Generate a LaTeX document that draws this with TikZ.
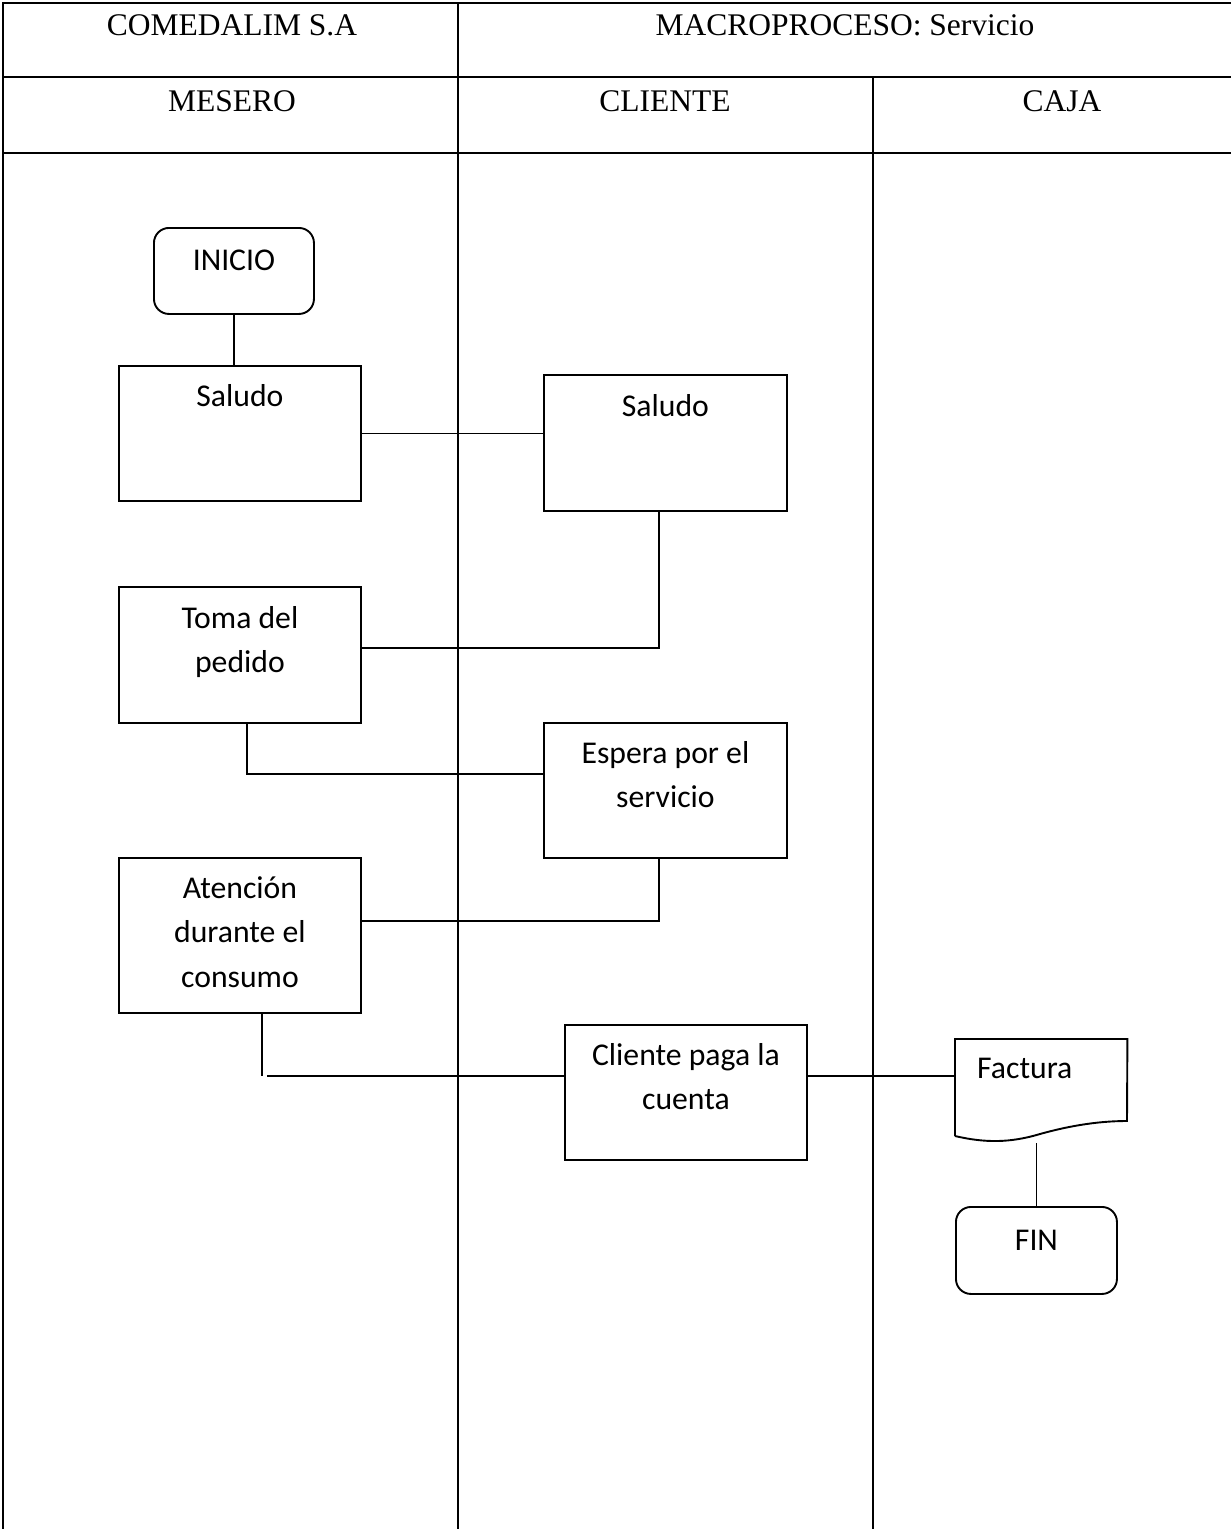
\documentclass[tikz,border=0pt]{standalone}
\usepackage{fontspec}
\setmainfont{Liberation Serif}
\newfontfamily\calfont{Carlito}
\begin{document}
\begin{tikzpicture}[x=1pt,y=-1pt,
  grid/.style={line width=2.3pt},
  conn/.style={line width=1.9pt},
  box/.style={draw, line width=1.9pt, rectangle, anchor=north west, inner sep=0pt},
  term/.style={box, rounded corners=15pt},
  hdr/.style={anchor=base, inner sep=0pt, font=\fontsize{31.5pt}{38pt}\selectfont},
  btxt/.style={anchor=north, inner sep=0pt, align=center, font=\calfont\fontsize{31.7pt}{44.5pt}\selectfont}
]
\useasboundingbox (0,0) rectangle (1231,1529);
% table
\draw[grid] (3,1535) -- (3,3) -- (1240,3);
\draw[grid] (3,77) -- (1240,77);
\draw[grid] (3,153) -- (1240,153);
\draw[grid] (458,3) -- (458,1535);
\draw[grid] (873,77) -- (873,1535);
% headers
\node[hdr] (h1) at (232,35) {COMEDALIM S.A};
\node[hdr] (h2) at (845,35) {MACROPROCESO: Servicio};
\node[hdr] (h3) at (232,111) {MESERO};
\node[hdr] (h4) at (665,111) {CLIENTE};
\node[hdr] (h5) at (1062,111) {CAJA};
% shapes
\node[term, minimum width=160pt, minimum height=86pt] (inicio) at (153,227) {};
\node[btxt] (iniciot) at ([yshift=-12pt]inicio.north) {\strut INICIO};
\node[box, minimum width=242pt, minimum height=135pt] (saludoM) at (118,365) {};
\node[btxt] (saludoMt) at ([yshift=-9.85pt]saludoM.north) {\strut Saludo};
\node[box, minimum width=243pt, minimum height=136pt] (saludoC) at (543,374) {};
\node[btxt] (saludoCt) at ([yshift=-10.85pt]saludoC.north) {\strut Saludo};
\node[box, minimum width=242pt, minimum height=136pt] (toma) at (118,586) {};
\node[btxt] (tomat) at ([yshift=-10.85pt]toma.north) {\strut Toma del\\\strut pedido};
\node[box, minimum width=243pt, minimum height=135pt] (espera) at (543,722) {};
\node[btxt] (esperat) at ([yshift=-9.85pt]espera.north) {\strut Espera por el\\\strut servicio};
\node[box, minimum width=242pt, minimum height=155pt] (atencion) at (118,857) {};
\node[btxt] (atenciont) at ([yshift=-9.85pt]atencion.north) {\strut Atención\\\strut durante el\\\strut consumo};
\node[box, minimum width=242pt, minimum height=135pt] (cliente) at (564,1024) {};
\node[btxt] (clientet) at ([yshift=-9.85pt]cliente.north) {\strut Cliente paga la\\\strut cuenta};
% factura (document shape)
\node[anchor=north west, minimum width=172pt, minimum height=104pt, inner sep=0pt] (factura) at (955,1039) {};
\draw[conn, line join=miter] (955,1136) -- (factura.north west) -- (factura.north east) -- (1127,1121)
  .. controls (1095,1121) and (1065,1127) .. (1040,1134)
  .. controls (1010,1143) and (985,1143) .. (955,1136);
\node[anchor=base west, inner sep=0pt, font=\calfont\fontsize{31.7pt}{44.5pt}\selectfont] (facturat) at (977,1078) {Factura};
\node[term, minimum width=161pt, minimum height=87pt] (fin) at (955,1206) {};
\node[btxt] (fint) at ([yshift=-13pt]fin.north) {\strut FIN};
% connectors
\draw[conn] (inicio.south) -- (inicio.south |- saludoM.north);
\draw[conn] (saludoM.east) -- (saludoM.east -| saludoC.west);
\draw[conn] ([xshift=-6.5pt]saludoC.south) |- ([yshift=7pt]toma.east);
\draw[conn] ([xshift=7pt]toma.south) |- ([yshift=16.5pt]espera.west);
\draw[conn] ([xshift=-6.5pt]espera.south) |- ([yshift=14.5pt]atencion.east);
\coordinate (gapL) at (262,1076);
\coordinate (gapR) at (267,1076);
\draw[conn] (gapL |- atencion.south) -- (gapL);
\draw[conn] (gapR) -- (gapR -| cliente.west);
\coordinate (payR) at (cliente.east |- gapR);
\draw[conn] (payR) -- (payR -| factura.west);
\draw[conn] (fin.north |- factura.south) -- (fin.north);
\end{tikzpicture}
\end{document}
